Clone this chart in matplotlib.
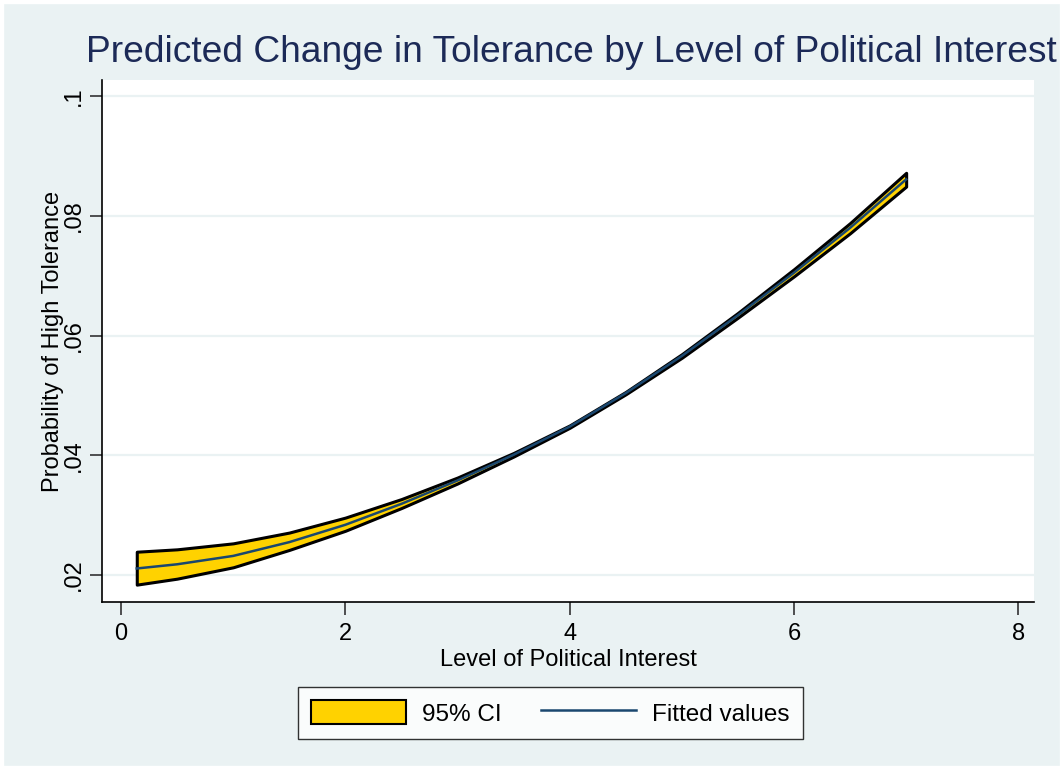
import numpy as np
import matplotlib
matplotlib.use("Agg")
from matplotlib import pyplot as plt
from matplotlib.patches import Rectangle, Patch
from matplotlib.lines import Line2D

# Predicted probabilities and 95% bounds by political interest
interest = [0.14, 0.5, 1.0, 1.5, 2.0, 2.5, 3.0, 3.5, 4.0, 4.5, 5.0, 5.5, 6.0, 6.5, 7.0]
fitted = [0.0211, 0.0218, 0.0232, 0.0255, 0.0284, 0.0319, 0.0358, 0.0401,
          0.0448, 0.0504, 0.0566, 0.0634, 0.0705, 0.0780, 0.0861]
ci_low = [0.0184, 0.0194, 0.0213, 0.0242, 0.0274, 0.0312, 0.0353, 0.0398,
          0.0446, 0.0502, 0.0563, 0.0630, 0.0699, 0.0771, 0.0849]
ci_high = [0.0239, 0.0243, 0.0253, 0.0271, 0.0296, 0.0327, 0.0363, 0.0404,
           0.0450, 0.0506, 0.0569, 0.0638, 0.0711, 0.0788, 0.0872]

x_ticks = [0, 2, 4, 6, 8]
y_ticks = [0.02, 0.04, 0.06, 0.08, 0.1]
y_tick_labels = [".02", ".04", ".06", ".08", ".1"]

bg = "#EAF2F3"
gold = "#FFD200"
navy = "#1A476F"
title_col = "#1C2A57"

plt.rcParams["font.family"] = ["Liberation Sans", "DejaVu Sans"]

fig = plt.figure(figsize=(10.64, 7.7), dpi=100, facecolor=bg)
# thin white frame round the graph region
fig.patches.append(Rectangle((0, 0), 1, 1, transform=fig.transFigure,
                             fill=False, edgecolor="white", linewidth=6,
                             zorder=10))

ax = fig.add_axes([102 / 1064, 168 / 770, 932 / 1064, 522 / 770])
ax.set_facecolor("white")

ax.fill_between(interest, ci_low, ci_high, facecolor=gold, edgecolor="black",
                linewidth=2.2, zorder=3)
ax.plot(interest, fitted, color=navy, linewidth=1.8, zorder=4)

ax.set_xlim(-0.17, 8.14)
ax.set_ylim(0.0155, 0.1027)
ax.set_xticks(x_ticks)
ax.set_yticks(y_ticks)
ax.set_yticklabels(y_tick_labels, rotation=90, va="center")
ax.grid(axis="y", color=bg, linewidth=1.6, zorder=1)
ax.set_axisbelow(True)

for side in ["top", "right"]:
    ax.spines[side].set_visible(False)
for side in ["left", "bottom"]:
    ax.spines[side].set_color("black")
    ax.spines[side].set_linewidth(1.2)

ax.tick_params(axis="both", direction="out", length=9, width=1.2,
               color="#333333", labelsize=17, labelcolor="black")
ax.tick_params(axis="x", pad=6)
ax.tick_params(axis="y", pad=3)

ax.set_xlabel("Level of Political Interest", fontsize=17, labelpad=3)
ax.set_ylabel("Probability of High Tolerance", fontsize=17)
ax.yaxis.set_label_coords(-0.041, 0.5)

fig.text(571 / 1064, 1 - 52 / 770,
         "Predicted Change in Tolerance by Level of Political Interest",
         ha="center", va="center", fontsize=26.7, color=title_col)

handles = [Patch(facecolor=gold, edgecolor="black", linewidth=1.5),
           Line2D([0], [0], color=navy, linewidth=1.8)]
leg = ax.legend(handles, ["95% CI", "Fitted values"], loc="center",
                bbox_to_anchor=(0.481, -0.2126), ncol=2, fontsize=17.5,
                frameon=True, fancybox=False, edgecolor="black",
                handlelength=3.9, handleheight=1.15, columnspacing=1.6,
                borderpad=0.55, handletextpad=0.68)
leg.get_frame().set_linewidth(1.0)

fig.savefig("out.png", dpi=100, facecolor=fig.get_facecolor())
